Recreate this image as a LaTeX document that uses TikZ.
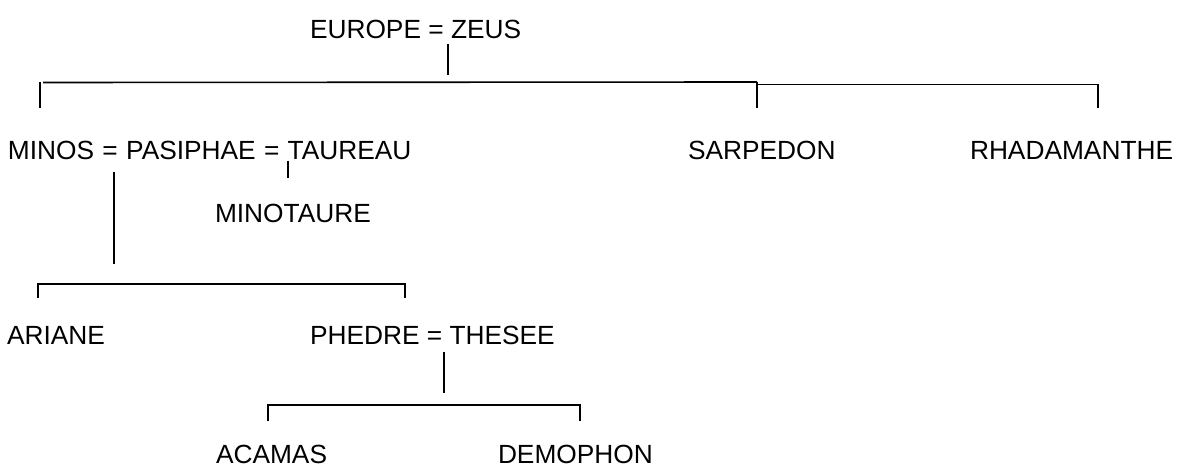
\documentclass[tikz,border=0pt]{standalone}
\usepackage{fontspec}
\setmainfont{Liberation Sans}
\tikzset{
  person/.style={anchor=base west, inner sep=0pt, outer sep=0pt, font=\fontsize{26.3}{30}\selectfont},
  link/.style={line width=1.6pt, black, line cap=butt}
}
\begin{document}
\begin{tikzpicture}[x=1pt,y=-1pt]
\useasboundingbox (0,0) rectangle (1178,468);
% names
\node[person] (europe) at (310,39) {EUROPE = ZEUS};
\node[person] (minos) at (8,160) {\spaceskip=8.3pt MINOS = PASIPHAE = TAUREAU};
\node[person] (sarpedon) at (688,160) {SARPEDON};
\node[person] (rhada) at (970,160) {RHADAMANTHE};
\node[person] (minotaure) at (215,222) {MINOTAURE};
\node[person] (ariane) at (7,344) {ARIANE};
\node[person] (phedre) at (310,344) {PHEDRE = THESEE};
\node[person] (acamas) at (216,463) {ACAMAS};
\node[person] (demophon) at (498,463) {DEMOPHON};
% junction points
\coordinate (z0) at (448,44);
\coordinate (z1) at (448,75);
\coordinate (h0) at (43,82.5);
\coordinate (l0) at (40,82);
\coordinate (l1) at (40,108);
\coordinate (s0) at (757,82);
\coordinate (s1) at (757,108);
\coordinate (h1) at (757,84.5);
\coordinate (r0) at (1098,84.5);
\coordinate (r1) at (1098,108);
\coordinate (ta0) at (288,161);
\coordinate (ta1) at (288,178);
\coordinate (m0) at (114,172);
\coordinate (m1) at (114,264);
\coordinate (a0) at (38,284);
\coordinate (a1) at (38,298);
\coordinate (p0) at (405,284);
\coordinate (p1) at (405,298);
\coordinate (t0) at (444,352);
\coordinate (t1) at (444,393);
\coordinate (c0) at (268,405);
\coordinate (c1) at (268,421);
\coordinate (d0) at (580,405);
\coordinate (d1) at (580,421);
% connectors
\draw[link] (z0) -- (z1);
\draw[link] (h0) -- (s0);
\draw[link] (h1) -- (r0);
\draw[link] (l0) -- (l1);
\draw[link] (s0) -- (s1);
\draw[link] (r0) -- (r1);
\draw[link] (ta0) -- (ta1);
\draw[link] (m0) -- (m1);
\draw[link] (a1) -- (a0) -- (p0) -- (p1);
\draw[link] (t0) -- (t1);
\draw[link] (c1) -- (c0) -- (d0) -- (d1);
\end{tikzpicture}
\end{document}
